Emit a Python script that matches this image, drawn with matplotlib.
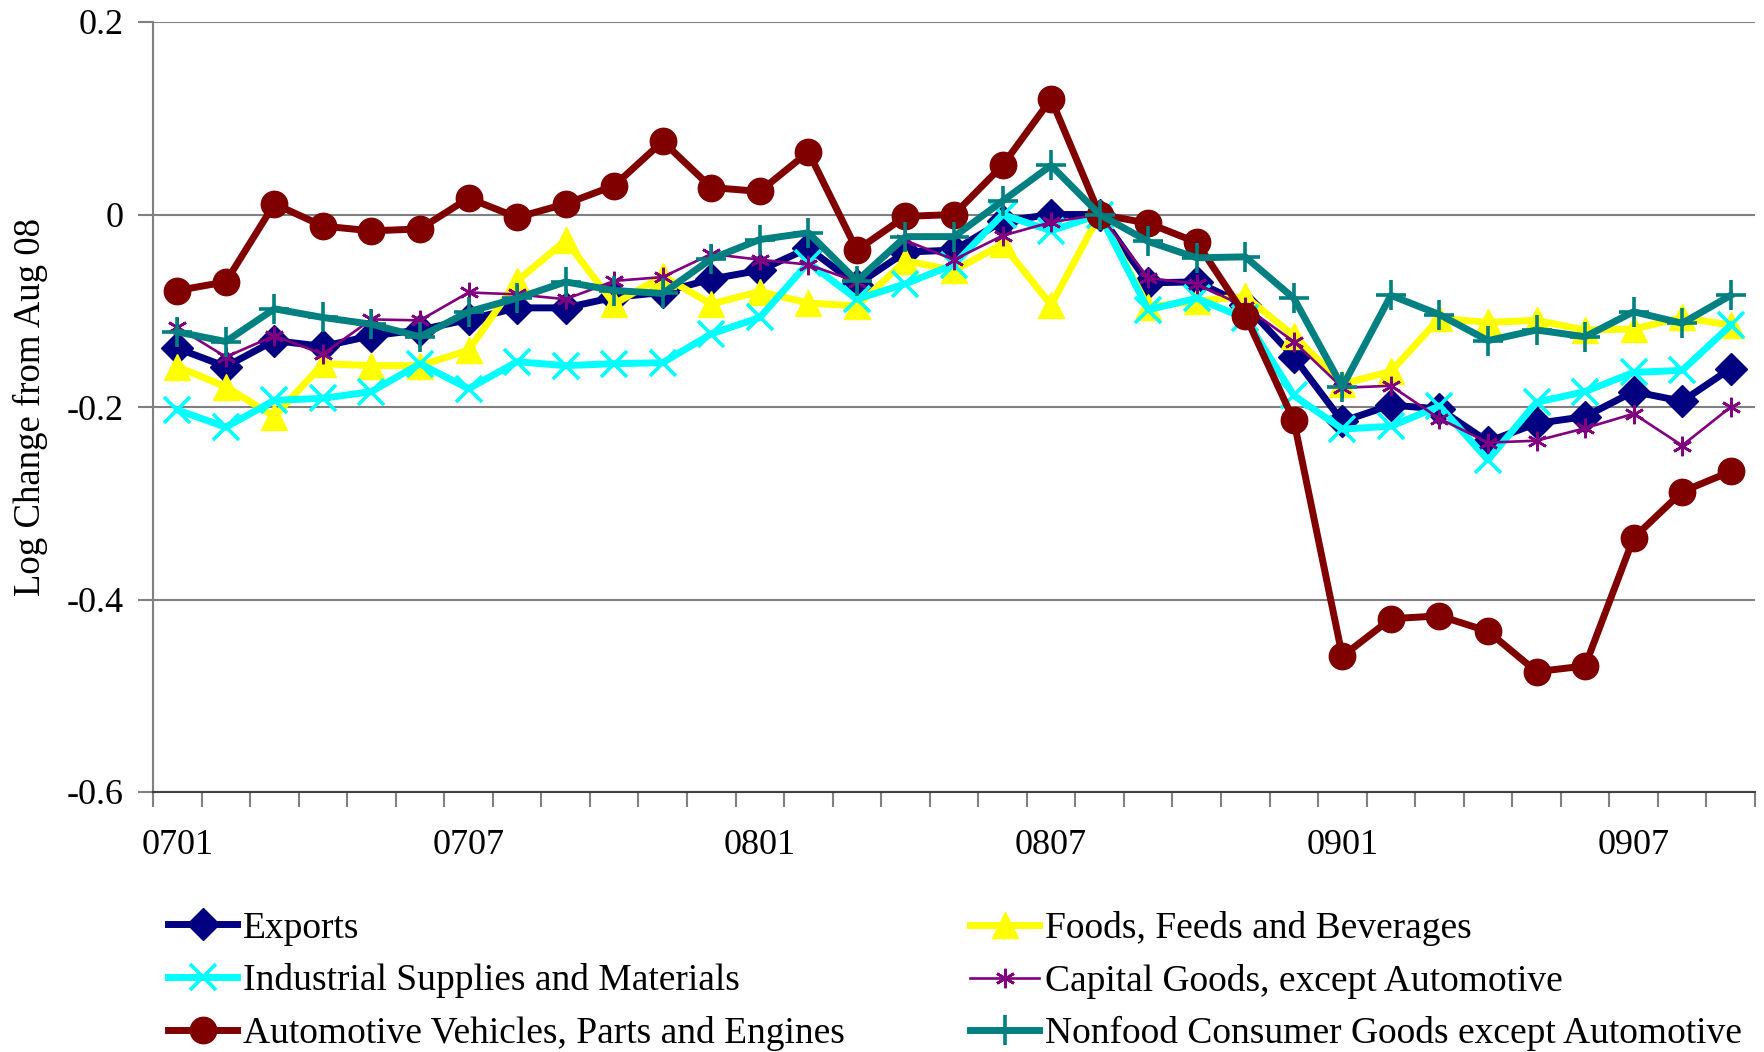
import matplotlib
matplotlib.use("Agg")
import matplotlib.pyplot as plt
from matplotlib.ticker import FixedLocator, NullFormatter, FixedFormatter

months = ['0701','0702','0703','0704','0705','0706','0707','0708','0709','0710','0711','0712',
          '0801','0802','0803','0804','0805','0806','0807','0808','0809','0810','0811','0812',
          '0901','0902','0903','0904','0905','0906','0907','0908','0909']

exports = [-0.139,-0.158,-0.131,-0.137,-0.126,-0.120,-0.109,-0.097,-0.097,-0.086,
           -0.081,-0.067,-0.058,-0.035,-0.073,-0.039,-0.037,-0.007,0.000,0.000,
           -0.071,-0.070,-0.094,-0.148,-0.215,-0.198,-0.202,-0.236,-0.217,
           -0.210,-0.184,-0.194,-0.160]
foods = [-0.158,-0.179,-0.210,-0.155,-0.157,-0.157,-0.141,-0.069,-0.027,-0.093,
         -0.064,-0.093,-0.080,-0.092,-0.095,-0.048,-0.058,-0.031,-0.094,0.000,
         -0.096,-0.090,-0.085,-0.126,-0.176,-0.163,-0.108,-0.112,-0.110,
         -0.120,-0.119,-0.107,-0.115]
industrial = [-0.203,-0.221,-0.193,-0.191,-0.184,-0.155,-0.181,-0.153,-0.157,-0.155,
              -0.154,-0.124,-0.107,-0.050,-0.088,-0.072,-0.052,0.000,-0.017,0.000,
              -0.099,-0.087,-0.108,-0.188,-0.223,-0.220,-0.199,-0.255,-0.195,
              -0.184,-0.164,-0.162,-0.115]
capital = [-0.117,-0.148,-0.126,-0.145,-0.109,-0.110,-0.081,-0.083,-0.088,-0.069,
           -0.065,-0.041,-0.047,-0.052,-0.070,-0.027,-0.047,-0.022,-0.008,0.000,
           -0.066,-0.072,-0.096,-0.132,-0.180,-0.178,-0.212,-0.237,-0.235,
           -0.222,-0.207,-0.240,-0.200]
automotive = [-0.079,-0.070,0.011,-0.012,-0.017,-0.015,0.017,-0.003,0.011,0.030,
              0.076,0.028,0.024,0.065,-0.037,-0.002,0.000,0.051,0.120,0.000,
              -0.009,-0.029,-0.105,-0.214,-0.459,-0.420,-0.417,-0.433,-0.475,
              -0.469,-0.336,-0.288,-0.267]
nonfood = [-0.122,-0.132,-0.098,-0.107,-0.114,-0.127,-0.101,-0.087,-0.070,-0.079,
           -0.082,-0.046,-0.026,-0.019,-0.069,-0.023,-0.023,0.014,0.051,0.000,
           -0.028,-0.045,-0.044,-0.087,-0.179,-0.084,-0.104,-0.131,-0.120,
           -0.127,-0.101,-0.113,-0.084]

labels = ['Exports', 'Foods, Feeds and Beverages', 'Industrial Supplies and Materials',
          'Capital Goods, except Automotive', 'Automotive Vehicles, Parts and Engines',
          'Nonfood Consumer Goods except Automotive']
yticks = [-0.6, -0.4, -0.2, 0, 0.2]
ytick_labels = ['-0.6', '-0.4', '-0.2', '0', '0.2']
xlabel_months = ['0701', '0707', '0801', '0807', '0901', '0907']

plt.rcParams['font.family'] = ['Liberation Serif', 'DejaVu Serif']
FS_TICK = 26
FS_LAB = 26.5
FS_LEG = 27

W, H = 1765, 1052
fig = plt.figure(figsize=(W/100, H/100), dpi=100)
L, R, T, B = 153, 1755, 22, 792
ax = fig.add_axes([L/W, 1-B/H, (R-L)/W, (B-T)/H])

x = list(range(len(months)))
styles = [
    dict(color='#000080', lw=5, marker='D', ms=16),
    dict(color='#FFFF00', lw=5, marker='^', ms=19),
    dict(color='#00FFFF', lw=5, marker='x', ms=19, mew=2.6),
    dict(color='#800080', lw=1.9, marker=(6, 2, 0), ms=14, mew=1.9),
    dict(color='#800000', lw=5, marker='o', ms=19),
    dict(color='#008080', lw=5, marker='+', ms=22, mew=2.6),
]
series = [exports, foods, industrial, capital, automotive, nonfood]
handles = []
for vals, lab, st in zip(series, labels, styles):
    h, = ax.plot(x, vals, label=lab, clip_on=False, **st)
    handles.append(h)

ax.set_xlim(-0.5, len(months) - 0.5)
ax.set_ylim(-0.6, 0.2)
ax.set_yticks(yticks)
ax.set_yticklabels(ytick_labels, fontsize=FS_TICK)
ax.yaxis.grid(True, color='#808080', lw=1.5)
ax.set_axisbelow(True)
for s in ['top', 'right']:
    ax.spines[s].set_visible(False)
ax.spines['left'].set_color('#808080')
ax.spines['left'].set_linewidth(1.5)
ax.spines['bottom'].set_color('#404040')
ax.spines['bottom'].set_linewidth(1.5)
ax.tick_params(axis='y', length=11, width=1.5, color='#808080', pad=10)

# category boundary ticks (major) and labels at category centres (minor)
ax.xaxis.set_major_locator(FixedLocator([i - 0.5 for i in range(len(months) + 1)]))
ax.xaxis.set_major_formatter(NullFormatter())
pos = [months.index(m) for m in xlabel_months]
ax.xaxis.set_minor_locator(FixedLocator(pos))
ax.xaxis.set_minor_formatter(FixedFormatter(xlabel_months))
ax.tick_params(axis='x', which='major', length=11, width=1.5, color='#808080')
ax.tick_params(axis='x', which='minor', length=0, pad=27, labelsize=FS_TICK)

ax.set_ylabel('Log Change from Aug 08', fontsize=FS_LAB)
ax.yaxis.set_label_coords((48 - L) / (R - L), 0.5)

# legend: two columns placed explicitly
leg_kw = dict(frameon=False, fontsize=FS_LEG, handlelength=1.85, handletextpad=0.15,
              labelspacing=0.47, borderpad=0, borderaxespad=0, numpoints=1)
order_left = [0, 2, 4]
order_right = [1, 3, 5]
fig.legend([handles[i] for i in order_left], [labels[i] for i in order_left],
           loc='upper left', bbox_to_anchor=(168/W, 1-911/H), **leg_kw)
fig.legend([handles[i] for i in order_right], [labels[i] for i in order_right],
           loc='upper left', bbox_to_anchor=(970/W, 1-911/H), **leg_kw)

fig.savefig('out.png', dpi=100)
